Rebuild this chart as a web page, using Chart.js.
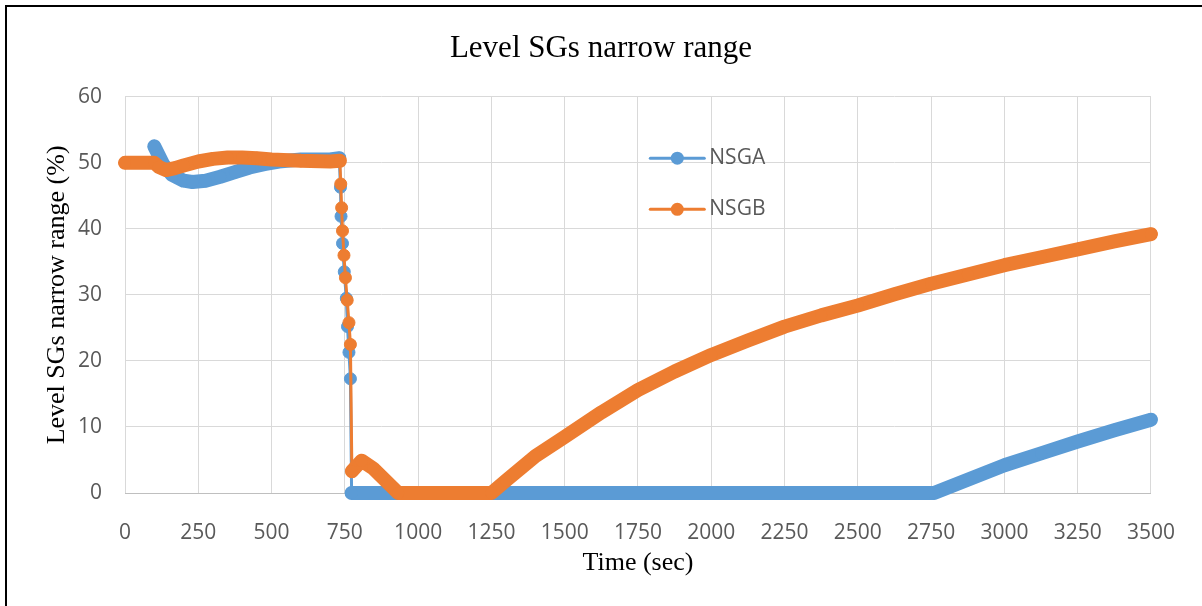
<!DOCTYPE html>
<html>
<head>
<meta charset="utf-8">
<title>Level SGs narrow range</title>
<script src="https://cdn.jsdelivr.net/npm/chart.js@4.4.1/dist/chart.umd.min.js"></script>
<style>
    html, body { margin: 0; padding: 0; background: #fff; }
    #graf { display: block; }
</style>
</head>
<body>
<canvas id="graf" width="1202" height="606"></canvas>
<script>
// steam generator narrow range level, time in sec, level in %
const nsgaTime  = [100, 130, 160, 200, 230, 275, 325, 375, 425, 475, 525, 600, 700, 731,
                   735, 737, 742, 748, 755, 759, 764, 769, 773,
                   2760, 3000, 3125, 3250, 3375, 3500];
const nsgaLevel = [52.5, 49.8, 48.2, 47.3, 47.1, 47.3, 47.9, 48.6, 49.3, 49.8, 50.2, 50.5, 50.5, 50.7,
                   46.3, 41.9, 37.8, 33.5, 29.5, 25.2, 21.3, 17.3, 0,
                   0, 4.2, 6.0, 7.8, 9.5, 11.1];

const nsgbTime  = [0, 100, 115, 140, 170, 200, 250, 300, 350, 400, 450, 500, 600, 700, 733,
                   736, 739, 742, 747, 752, 758, 764, 769, 774,
                   807, 847, 932, 1250, 1300, 1400, 1500, 1625, 1750, 1875, 2000, 2125, 2250,
                   2375, 2500, 2625, 2750, 2875, 3000, 3125, 3250, 3375, 3500];
const nsgbLevel = [50.0, 50.0, 49.4, 48.9, 49.2, 49.6, 50.2, 50.6, 50.8, 50.8, 50.7, 50.5, 50.3, 50.2, 50.3,
                   46.8, 43.2, 39.7, 36.0, 32.6, 29.2, 25.8, 22.5, 3.3,
                   4.9, 3.7, 0, 0, 1.9, 5.6, 8.5, 12.2, 15.6, 18.4, 20.9, 23.1, 25.2,
                   26.9, 28.4, 30.1, 31.7, 33.1, 34.5, 35.7, 36.9, 38.1, 39.2];

const timeRange  = [0, 3500, 250];
const levelRange = [0, 60, 10];

(function () {

    const serif = "'Liberation Serif', 'Times New Roman', serif";
    const sans = "'Open Sans', 'Noto Sans', sans-serif";
    const grey = '#595959';

    const band = 14;   // dense samples merge into a solid band
    const thin = 3;    // connector between separated samples

    // fast transients: samples spread apart, line gets thin
    let steep = function (ctx) {
        const a = ctx.p0.parsed, b = ctx.p1.parsed;
        return Math.abs(b.y - a.y) > 0.3 * Math.abs(b.x - a.x);
    };

    let series = function (label, times, levels, color, order) {
        return {
            label: label,
            order: order,
            data: times.map(function (t, i) { return {x: t, y: levels[i]}; }),
            borderColor: color,
            backgroundColor: color,
            pointBackgroundColor: color,
            pointBorderColor: color,
            borderWidth: band,
            borderCapStyle: 'round',
            borderJoinStyle: 'round',
            pointRadius: 6,
            pointBorderWidth: 1,
            pointHoverRadius: 6,
            clip: false,
            segment: {
                borderWidth: function (ctx) { return steep(ctx) ? thin : band; }
            }
        };
    };

    let plain = function (v) { return String(v); };

    // legend drawn inside the plot
    const legendBox = {
        id: 'legendBox',
        afterDatasetsDraw: function (chart) {
            const ctx = chart.ctx, a = chart.chartArea;
            const x0 = a.left + a.width * 0.512;
            ctx.save();
            chart.data.datasets.forEach(function (ds, i) {
                const y = a.top + a.height * (0.155 + i * 0.129);
                ctx.strokeStyle = ds.borderColor;
                ctx.lineWidth = 3;
                ctx.lineCap = 'round';
                ctx.beginPath();
                ctx.moveTo(x0, y);
                ctx.lineTo(x0 + 54, y);
                ctx.stroke();
                ctx.fillStyle = ds.borderColor;
                ctx.beginPath();
                ctx.arc(x0 + 27, y, 6.5, 0, Math.PI * 2);
                ctx.fill();
                ctx.fillStyle = grey;
                ctx.font = '21px ' + sans;
                ctx.textBaseline = 'middle';
                ctx.textAlign = 'left';
                ctx.fillText(ds.label, x0 + 59, y);
            });
            ctx.restore();
        }
    };

    // white page with the black frame on top and left
    const frame = {
        id: 'frame',
        beforeDraw: function (chart) {
            const ctx = chart.ctx;
            ctx.save();
            ctx.fillStyle = '#fff';
            ctx.fillRect(0, 0, chart.width, chart.height);
            ctx.restore();
        },
        afterDraw: function (chart) {
            const ctx = chart.ctx;
            ctx.save();
            ctx.strokeStyle = '#000';
            ctx.lineWidth = 2;
            ctx.beginPath();
            ctx.moveTo(6, chart.height);
            ctx.lineTo(6, 6);
            ctx.lineTo(chart.width, 6);
            ctx.stroke();
            ctx.restore();
        }
    };

    const config = {
        type: 'line',
        data: {
            datasets: [
                series('NSGA', nsgaTime, nsgaLevel, '#5b9bd5', 2),
                series('NSGB', nsgbTime, nsgbLevel, '#ed7d31', 1)
            ]
        },
        options: {
            responsive: false,
            animation: false,
            devicePixelRatio: 1,
            events: [],
            layout: {
                padding: 0
            },
            scales: {
                x: {
                    type: 'linear',
                    min: timeRange[0],
                    max: timeRange[1],
                    ticks: {
                        stepSize: timeRange[2],
                        autoSkip: false,
                        maxRotation: 0,
                        color: grey,
                        padding: 27,
                        font: {family: sans, size: 21},
                        callback: plain
                    },
                    grid: {color: '#d9d9d9', lineWidth: 1, drawTicks: false},
                    border: {display: true, color: '#bfbfbf', width: 1},
                    title: {
                        display: true,
                        text: 'Time (sec)',
                        color: '#000',
                        font: {family: serif, size: 26},
                        padding: {top: 0, bottom: 27}
                    },
                    afterFit: function (s) { s.height = 113; }
                },
                y: {
                    min: levelRange[0],
                    max: levelRange[1],
                    ticks: {
                        stepSize: levelRange[2],
                        color: grey,
                        padding: 23,
                        font: {family: sans, size: 21},
                        callback: plain
                    },
                    grid: {color: '#d9d9d9', lineWidth: 1, drawTicks: false},
                    border: {display: false},
                    title: {
                        display: true,
                        text: 'Level SGs narrow range (%)',
                        color: '#000',
                        font: {family: serif, size: 26},
                        padding: {top: 42, bottom: 0}
                    },
                    afterFit: function (s) { s.width = 125; }
                },
                // empty strip on the right, keeps the title centred on the page
                gap: {
                    position: 'right',
                    min: levelRange[0],
                    max: levelRange[1],
                    ticks: {display: false},
                    grid: {display: false, drawTicks: false},
                    border: {display: false},
                    afterFit: function (s) { s.width = 51; }
                }
            },
            plugins: {
                title: {
                    display: true,
                    text: 'Level SGs narrow range',
                    color: '#000',
                    font: {family: serif, size: 31, weight: 'normal'},
                    padding: {top: 30, bottom: 29.6}
                },
                legend: {display: false},
                tooltip: {enabled: false}
            }
        },
        plugins: [frame, legendBox]
    };

    const myChart = new Chart(document.getElementById('graf').getContext('2d'), config);

})();
</script>
</body>
</html>
